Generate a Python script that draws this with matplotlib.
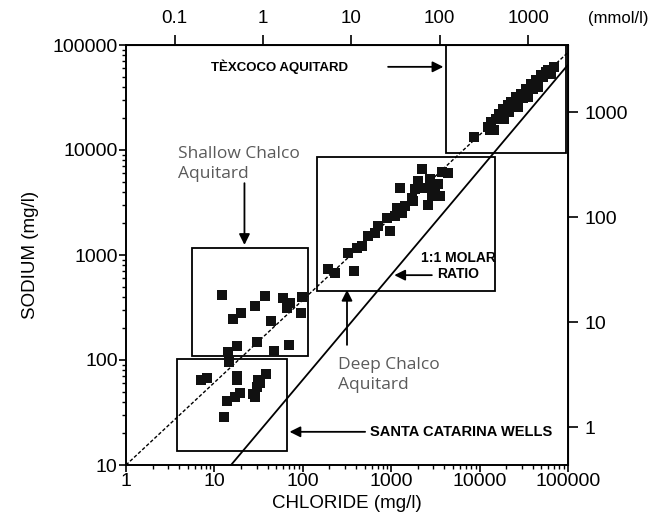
import numpy as np
import matplotlib
matplotlib.use("Agg")
import matplotlib.pyplot as plt
from matplotlib.patches import Rectangle
from matplotlib.ticker import FixedLocator, NullLocator, FixedFormatter, LogLocator

plt.rcParams['font.family'] = ['Liberation Sans', 'DejaVu Sans']

# Massas molares (mg/mmol)
M_NA = 22.99
M_CL = 35.45

# Texcoco aquitard (Cl, Na em mg/l)
texcoco_cl = [8550, 12330, 13340, 14420, 15200, 16440, 18240, 18750, 20800, 22490,
              25650, 27040, 29240, 33340, 35080, 38000, 43270, 45600, 49330, 59290,
              64120, 69340, 13000, 17000, 21500, 24000, 31000, 40000, 52000, 56000]
texcoco_na = [13430, 16700, 18620, 15630, 19900, 22190, 24740, 19900, 26990, 28840,
              32150, 25830, 34340, 38280, 32150, 42660, 46560, 40010, 51940, 57940,
              53090, 61810, 15500, 21000, 23000, 27500, 31000, 38500, 50000, 55000]

# Deep Chalco aquitard
deep_cl = [192, 231, 380, 325, 411, 468, 548, 658, 712, 974, 901, 1110, 1334, 1170,
           1443, 1778, 1733, 1875, 2434, 1266, 2250, 2773, 3420, 3162, 2924, 3606,
           4446, 3800, 2000, 2600]
deep_na = [737, 675, 705, 1045, 1164, 1217, 1513, 1617, 1884, 1687, 2243, 2344, 2500,
           2788, 2913, 3250, 3467, 4224, 4315, 4315, 6531, 5248, 4710, 4224, 3624,
           3624, 5986, 6120, 5024, 3000]

# Shallow Chalco aquitard
shallow_cl = [12.3, 37, 29, 20, 16.4, 59, 71, 66, 97, 95, 44, 30, 17.8, 14.4, 69, 47]
shallow_na = [418, 409, 329, 282, 247, 391, 351, 315, 400, 282, 237, 150, 137, 120, 140, 123]

# Santa Catarina wells
santa_cl = [14.8, 7.1, 8.3, 17.8, 18.2, 38, 31, 30, 28.5, 19.7, 16.9, 14, 12.7, 33, 27]
santa_na = [95, 65, 67, 71, 64, 74, 65, 55, 44, 49, 44, 41, 28.5, 60, 47]

# Caixas: (cl_min, cl_max, na_min, na_max)
box_texcoco = (4200, 95000, 9300, 100000)
box_deep = (145, 15100, 455, 8500)
box_shallow = (5.6, 114, 110, 1170)
box_santa = (3.8, 66, 13.6, 103)

# Linha tracejada (pontos extremos)
dash_cl = [1, 100000]
dash_na = [10, 85000]

fig = plt.figure(figsize=(6.5, 5.2), dpi=100)
ax = fig.add_axes([126 / 650, 55 / 520, 442 / 650, 420 / 520])
ax.set_xscale('log')
ax.set_yscale('log')
ax.set_xlim(1, 100000)
ax.set_ylim(10, 100000)

for cl, na in [(texcoco_cl, texcoco_na), (deep_cl, deep_na),
               (shallow_cl, shallow_na), (santa_cl, santa_na)]:
    ax.plot(cl, na, 's', color='#111111', markersize=7, markeredgewidth=0, zorder=3)

# Linha 1:1 molar
cl_line = np.array([10 * M_CL / M_NA, 100000])
ax.plot(cl_line, cl_line * M_NA / M_CL, color='black', lw=1.3)
ax.plot(dash_cl, dash_na, color='black', lw=1.0, linestyle=(0, (2.5, 1.5)))

for x0, x1, y0, y1 in [box_texcoco, box_deep, box_shallow, box_santa]:
    ax.add_patch(Rectangle((x0, y0), x1 - x0, y1 - y0, fill=False,
                           edgecolor='black', lw=1.3, zorder=2))

# Eixos
ax.xaxis.set_major_locator(FixedLocator([1, 10, 100, 1000, 10000, 100000]))
ax.xaxis.set_major_formatter(FixedFormatter(['1', '10', '100', '1000', '10000', '100000']))
ax.yaxis.set_major_locator(FixedLocator([10, 100, 1000, 10000, 100000]))
ax.yaxis.set_major_formatter(FixedFormatter(['10', '100', '1000', '10000', '100000']))
ax.xaxis.set_minor_locator(LogLocator(base=10, subs=np.arange(2, 10), numticks=20))
ax.yaxis.set_minor_locator(LogLocator(base=10, subs=np.arange(2, 10), numticks=20))
ax.xaxis.set_minor_formatter(plt.NullFormatter())
ax.yaxis.set_minor_formatter(plt.NullFormatter())
ax.tick_params(which='major', direction='out', length=5, width=1.2, labelsize=14, pad=1)
ax.tick_params(which='minor', direction='out', length=3, width=1.0)
for s in ax.spines.values():
    s.set_linewidth(1.4)

ax.set_xlabel('CHLORIDE (mg/l)', fontsize=13.5, labelpad=3)
ax.set_ylabel('SODIUM (mg/l)', fontsize=13.5, labelpad=10)

top = ax.secondary_xaxis('top', functions=(lambda x: x / M_CL, lambda m: m * M_CL))
top.xaxis.set_major_locator(FixedLocator([0.1, 1, 10, 100, 1000]))
top.xaxis.set_major_formatter(FixedFormatter(['0.1', '1', '10', '100', '1000']))
top.xaxis.set_minor_locator(NullLocator())
top.tick_params(direction='out', length=7, width=1.2, labelsize=13.5, pad=6)

right = ax.secondary_yaxis('right', functions=(lambda y: y / M_NA, lambda m: m * M_NA))
right.yaxis.set_major_locator(FixedLocator([1, 10, 100, 1000]))
right.yaxis.set_major_formatter(FixedFormatter(['1', '10', '100', '1000']))
right.yaxis.set_minor_locator(NullLocator())
right.tick_params(direction='out', length=7, width=1.2, labelsize=14, pad=5)

fig.text(588 / 650, 1 - 18 / 520, '(mmol/l)', fontsize=12, va='center', ha='left')

# Rótulos e setas
arrow = dict(arrowstyle='-|>', color='black', lw=1.3, mutation_scale=16,
             shrinkA=0, shrinkB=0)
gray = dict(family=['Open Sans', 'DejaVu Sans'], color='#5a5a5a', fontsize=12.5,
            linespacing=1.3)

ax.text(0.348, 0.948, 'TÈXCOCO AQUITARD', transform=ax.transAxes,
        ha='center', va='center', fontsize=9.5, fontweight='bold')
ax.annotate('', xy=(0.718, 0.948), xytext=(0.593, 0.948),
            xycoords='axes fraction', arrowprops=arrow)

ax.text(0.118, 0.716, 'Shallow Chalco\nAquitard', transform=ax.transAxes,
        ha='left', va='center', **gray)
ax.annotate('', xy=(0.268, 0.524), xytext=(0.268, 0.671),
            xycoords='axes fraction', arrowprops=arrow)

ax.text(0.48, 0.214, 'Deep Chalco\nAquitard', transform=ax.transAxes,
        ha='left', va='center', **gray)
ax.annotate('', xy=(0.5, 0.417), xytext=(0.5, 0.286),
            xycoords='axes fraction', arrowprops=arrow)

ax.text(0.752, 0.474, '1:1 MOLAR\nRATIO', transform=ax.transAxes,
        ha='center', va='center', linespacing=1.2, fontsize=10, fontweight='bold')
ax.annotate('', xy=(0.607, 0.452), xytext=(0.692, 0.452),
            xycoords='axes fraction', arrowprops=arrow)

ax.text(0.552, 0.079, 'SANTA CATARINA WELLS', transform=ax.transAxes,
        ha='left', va='center', fontsize=10.5, fontweight='bold')
ax.annotate('', xy=(0.370, 0.079), xytext=(0.541, 0.079),
            xycoords='axes fraction', arrowprops=arrow)

fig.savefig('out.png', dpi=100)
